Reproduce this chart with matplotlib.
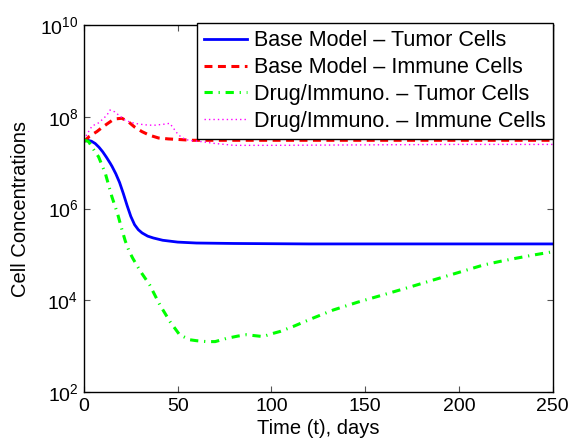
import numpy as np
import matplotlib
matplotlib.use("Agg")
import matplotlib.pyplot as plt

plt.rcParams['font.family'] = ['Liberation Sans', 'DejaVu Sans']
plt.rcParams['mathtext.fontset'] = 'custom'
plt.rcParams['mathtext.rm'] = 'Liberation Sans'
plt.rcParams['mathtext.it'] = 'Liberation Sans'

# Base model - tumor cells (log10 values)
base_tumor_t = [0, 2, 4, 6, 8, 10, 12, 14, 15, 17, 19, 21, 23, 25, 27, 29, 31, 34, 37,
                42, 50, 60, 80, 120, 180, 250]
base_tumor_log = [7.47, 7.49, 7.47, 7.42, 7.34, 7.24, 7.12, 6.99, 6.92, 6.76, 6.57, 6.33,
                  6.07, 5.83, 5.65, 5.54, 5.47, 5.40, 5.36, 5.31, 5.27, 5.25, 5.24, 5.23,
                  5.23, 5.23]

# Base model - immune cells
base_imm_t = [0, 3, 6.9, 10, 14.9, 17.5, 20.3, 23.8, 27, 30.9, 35, 39.8, 45, 49.6, 57.6,
              70, 100, 150, 200, 250]
base_imm_log = [7.46, 7.58, 7.68, 7.78, 7.92, 7.96, 7.97, 7.89, 7.78, 7.68, 7.60, 7.54, 7.52,
                7.51, 7.49, 7.49, 7.49, 7.49, 7.49, 7.49]

# Drug/Immuno - tumor cells
drug_tumor_t = [0, 2.5, 5, 7.8, 11.4, 14.9, 18, 20, 22, 24, 26, 28, 30, 35, 40.5, 46, 51,
                56.5, 60, 65.4, 70, 76, 82, 86.7, 91, 95.5, 100, 104.5, 111.6, 122, 133, 146,
                159.6, 173, 186, 200, 213, 222, 230.7, 240, 250]
drug_tumor_log = [7.50, 7.46, 7.30, 7.13, 6.77, 6.26, 5.88, 5.58, 5.30, 5.08, 4.92, 4.78,
                  4.64, 4.34, 3.90, 3.53, 3.25, 3.14, 3.12, 3.10, 3.10, 3.17, 3.22, 3.25,
                  3.23, 3.21, 3.27, 3.32, 3.43, 3.61, 3.79, 3.96, 4.12, 4.28, 4.44, 4.61,
                  4.77, 4.85, 4.92, 4.99, 5.06]

# Drug/Immuno - immune cells
drug_imm_t = [0, 2.5, 4.3, 7.8, 10, 12.3, 13.9, 16.5, 18.5, 21.9, 24.5, 27.2, 30, 34.5, 38,
              42.5, 45.8, 49.6, 52, 55.8, 62.9, 70, 80, 100, 150, 200, 250]
drug_imm_log = [7.50, 7.68, 7.80, 7.87, 7.95, 8.04, 8.15, 8.11, 8.04, 7.93, 7.89, 7.86, 7.84,
                7.82, 7.82, 7.84, 7.86, 7.65, 7.55, 7.49, 7.46, 7.42, 7.38, 7.38, 7.39, 7.40,
                7.40]

labels = ["Base Model \u2013 Tumor Cells", "Base Model \u2013 Immune Cells",
          "Drug/Immuno. \u2013 Tumor Cells", "Drug/Immuno. \u2013 Immune Cells"]

fig = plt.figure(figsize=(5.71, 4.42), dpi=100)
ax = fig.add_axes([0.147, 0.113, 0.821, 0.830])

ax.plot(base_tumor_t, 10 ** np.array(base_tumor_log), color='#0000ff', lw=2.0,
        label=labels[0])
ax.plot(base_imm_t, 10 ** np.array(base_imm_log), color='#ff0000', lw=2.2,
        dashes=(2.6, 1.8), label=labels[1])
ax.plot(drug_tumor_t, 10 ** np.array(drug_tumor_log), color='#00ff00', lw=2.2,
        dashes=(2.7, 1.9, 0.4, 1.9), label=labels[2])
ax.plot(drug_imm_t, 10 ** np.array(drug_imm_log), color='#ff00ff', lw=1.0,
        dashes=(1, 2.2), label=labels[3])

ax.set_yscale('log')
ax.set_xlim(0, 250)
ax.set_ylim(1e2, 1e10)
ax.set_xticks([0, 50, 100, 150, 200, 250])
ax.set_yticks([1e2, 1e4, 1e6, 1e8, 1e10])
ax.set_yticklabels([r'$10^{2}$', r'$10^{4}$', r'$10^{6}$', r'$10^{8}$', r'$10^{10}$'])
ax.minorticks_off()
ax.tick_params(direction='in', top=True, right=True, length=4, width=0.8,
               labelsize=14, colors='#555555', labelcolor='black', pad=4)
for s in ax.spines.values():
    s.set_linewidth(1.0)

ax.set_xlabel('Time (t), days', fontsize=14.5, labelpad=3)
ax.set_ylabel('Cell Concentrations', fontsize=14.5, labelpad=7)

leg = ax.legend(loc='upper right', bbox_to_anchor=(1.0, 1.005), borderaxespad=0,
                fontsize=15.5, frameon=True, fancybox=False, edgecolor='black',
                framealpha=1, handlelength=2.0, handletextpad=0.33, labelspacing=0.27,
                borderpad=0.32)
leg.get_frame().set_linewidth(1.0)

fig.savefig('out.png', dpi=100)
